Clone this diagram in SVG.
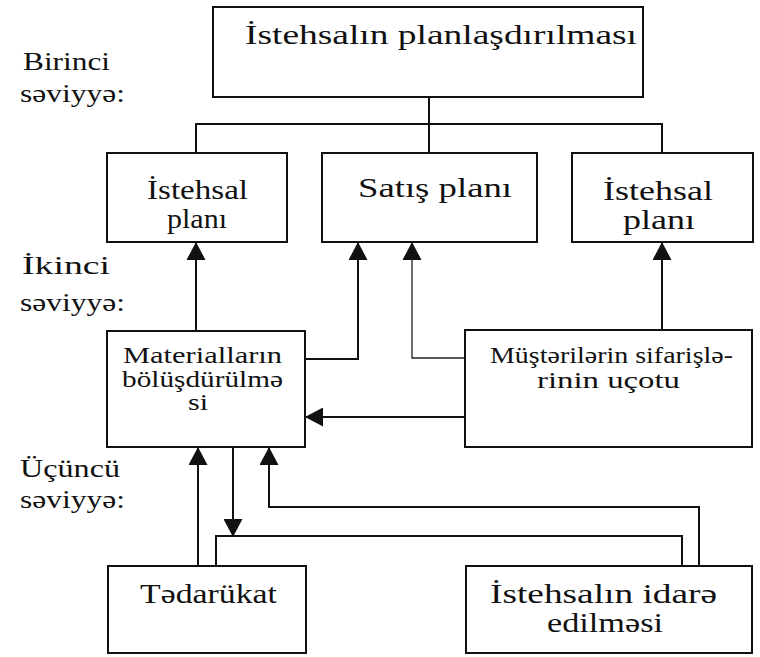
<svg xmlns="http://www.w3.org/2000/svg" width="760" height="657" viewBox="0 0 760 657">
<style>
.box{fill:#fff;stroke:#111;stroke-width:2}
.t{font-family:"Liberation Serif","Times New Roman",serif;fill:#111}
.lv{font-size:26px}
.big{font-size:28px}
.mid{font-size:23px}
.ln{fill:none;stroke:#111;stroke-width:2}
.thin{fill:none;stroke:#222;stroke-width:1.3}
</style>
<defs>
<marker id="ah" viewBox="0 0 18 19" markerWidth="18" markerHeight="19" refX="17" refY="9.5" orient="auto" markerUnits="userSpaceOnUse">
<path d="M0,0 L18,9.5 L0,19 Z" fill="#111"/>
</marker>
</defs>
<rect width="760" height="657" fill="#fff"/>

<g id="labels">
<text class="t lv" x="23" y="70" textLength="87" lengthAdjust="spacingAndGlyphs">Birinci</text>
<text class="t lv" x="20" y="102" textLength="105" lengthAdjust="spacingAndGlyphs">səviyyə:</text>
<text class="t lv" x="22" y="274" textLength="88" lengthAdjust="spacingAndGlyphs">İkinci</text>
<text class="t lv" x="20" y="311" textLength="105" lengthAdjust="spacingAndGlyphs">səviyyə:</text>
<text class="t lv" x="20" y="477" textLength="100" lengthAdjust="spacingAndGlyphs">Üçüncü</text>
<text class="t lv" x="20" y="508" textLength="105" lengthAdjust="spacingAndGlyphs">səviyyə:</text>
</g>

<g id="connectors">
<path class="ln" d="M429,97 V153 M196,153 V124 H662 V153"/>
<path class="ln" d="M196,331 V243" marker-end="url(#ah)"/>
<path class="ln" d="M305,359 H358 V243" marker-end="url(#ah)"/>
<path class="thin" d="M465,358 H412 V243" marker-end="url(#ah)"/>
<path class="ln" d="M662,330 V243" marker-end="url(#ah)"/>
<path class="ln" d="M465,417 H306" marker-end="url(#ah)"/>
<path class="ln" d="M198,566 V448" marker-end="url(#ah)"/>
<path class="ln" d="M233,447 V536" marker-end="url(#ah)"/>
<path class="ln" d="M216,566 V536 H682 V566"/>
<path class="ln" d="M699,566 V507 H269 V448" marker-end="url(#ah)"/>
</g>

<g id="n-top">
<rect class="box" x="213" y="7" width="430" height="90"/>
<text class="t big" x="245" y="44" textLength="392" lengthAdjust="spacingAndGlyphs">İstehsalın planlaşdırılması</text>
</g>

<g id="n-istehsal1">
<rect class="box" x="107" y="153" width="180" height="89"/>
<text class="t big" x="147" y="199" textLength="101" lengthAdjust="spacingAndGlyphs">İstehsal</text>
<text class="t big" x="167" y="228" textLength="60" lengthAdjust="spacingAndGlyphs">planı</text>
</g>

<g id="n-satis">
<rect class="box" x="322" y="153" width="215" height="89"/>
<text class="t big" x="358" y="197" textLength="154" lengthAdjust="spacingAndGlyphs">Satış planı</text>
</g>

<g id="n-istehsal2">
<rect class="box" x="572" y="153" width="181" height="89"/>
<text class="t big" x="603" y="200" textLength="110" lengthAdjust="spacingAndGlyphs">İstehsal</text>
<text class="t big" x="623" y="229" textLength="72" lengthAdjust="spacingAndGlyphs">planı</text>
</g>

<g id="n-materiallar">
<rect class="box" x="107" y="331" width="198" height="116"/>
<text class="t mid" x="123" y="363" textLength="159" lengthAdjust="spacingAndGlyphs">Materialların</text>
<text class="t mid" x="122" y="387" textLength="161" lengthAdjust="spacingAndGlyphs">bölüşdürülmə</text>
<text class="t mid" x="188" y="410" textLength="20" lengthAdjust="spacingAndGlyphs">si</text>
</g>

<g id="n-musteri">
<rect class="box" x="465" y="330" width="287" height="117"/>
<text class="t mid" x="490" y="363" textLength="243" lengthAdjust="spacingAndGlyphs">Müştərilərin sifarişlə-</text>
<text class="t mid" x="537" y="388" textLength="143" lengthAdjust="spacingAndGlyphs">rinin uçotu</text>
</g>

<g id="n-tedarukat">
<rect class="box" x="108" y="566" width="198" height="87"/>
<text class="t big" x="140" y="603" textLength="137" lengthAdjust="spacingAndGlyphs">Tədarükat</text>
</g>

<g id="n-idare">
<rect class="box" x="466" y="566" width="286" height="87"/>
<text class="t big" x="490" y="603" textLength="227" lengthAdjust="spacingAndGlyphs">İstehsalın idarə</text>
<text class="t big" x="547" y="632" textLength="116" lengthAdjust="spacingAndGlyphs">edilməsi</text>
</g>
</svg>
